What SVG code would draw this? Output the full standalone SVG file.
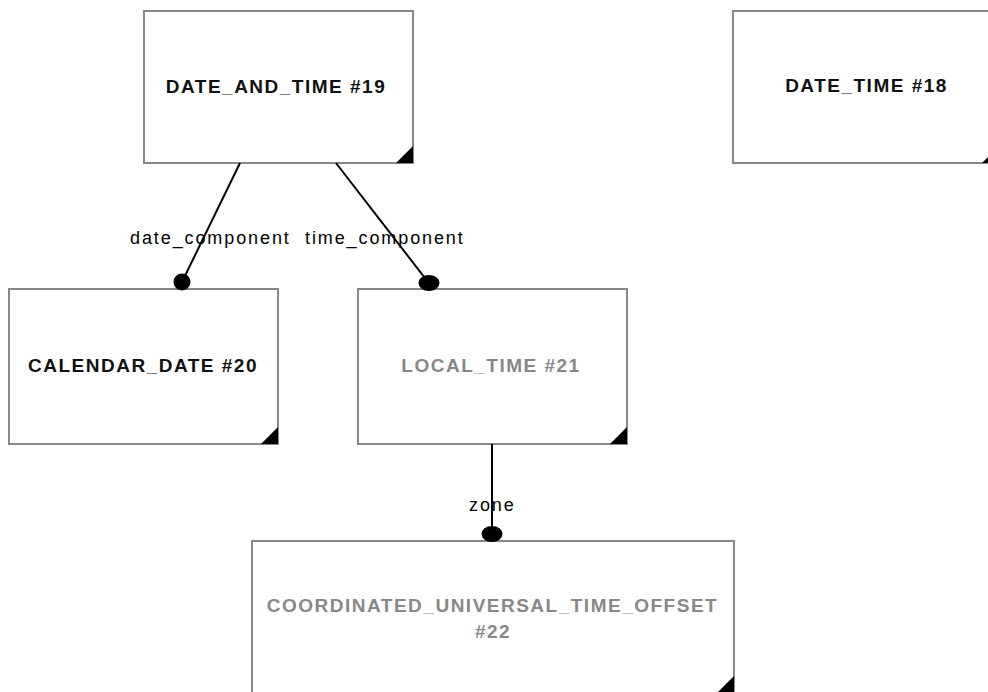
<svg xmlns="http://www.w3.org/2000/svg" width="988" height="692" viewBox="0 0 988 692">
<style>
.box{fill:#fff;stroke:#888;stroke-width:2}
.tri{fill:#000}
.t{font-family:"Liberation Sans",Arial,sans-serif;font-size:19px;font-weight:bold;letter-spacing:1.5px;text-anchor:middle}
.dark{fill:#111}
.grey{fill:#888}
.lbl{font-family:"Liberation Sans",Arial,sans-serif;font-size:18px;letter-spacing:1.9px;fill:#000}
.edge{stroke:#000;stroke-width:2;fill:none}
.dot{fill:#000}
</style>
<rect width="988" height="692" fill="#fff"/>
<g id="node19">
<rect class="box" x="144" y="11" width="269" height="152"/>
<polygon class="tri" points="413,146 413,163 396,163"/>
<text class="t dark" x="276" y="93">DATE_AND_TIME #19</text>
</g>
<g id="node18">
<rect class="box" x="733" y="11" width="266" height="152"/>
<polygon class="tri" points="999,146 999,163 982,163"/>
<text class="t dark" x="866.5" y="92">DATE_TIME #18</text>
</g>
<g id="node20">
<rect class="box" x="9" y="289" width="269" height="155"/>
<polygon class="tri" points="278,427 278,444 261,444"/>
<text class="t dark" x="143" y="371.5">CALENDAR_DATE #20</text>
</g>
<g id="node21">
<rect class="box" x="358" y="289" width="269" height="155"/>
<polygon class="tri" points="627,427 627,444 610,444"/>
<text class="t grey" x="491" y="371.5">LOCAL_TIME #21</text>
</g>
<g id="node22">
<rect class="box" x="252" y="541" width="482" height="152"/>
<polygon class="tri" points="734,676 734,693 717,693"/>
<text class="t grey" x="492.5" y="612">COORDINATED_UNIVERSAL_TIME_OFFSET</text>
<text class="t grey" x="493" y="637.5">#22</text>
</g>
<g id="connectors">
<line class="edge" x1="240" y1="163" x2="182" y2="282"/>
<circle class="dot" cx="182" cy="282" r="8.5"/>
<text class="lbl" x="130" y="244">date_component</text>
<line class="edge" x1="336" y1="163" x2="428" y2="282"/>
<ellipse class="dot" cx="429" cy="283" rx="10.5" ry="8"/>
<text class="lbl" x="305" y="244">time_component</text>
<line class="edge" x1="492" y1="444" x2="492" y2="534"/>
<ellipse class="dot" cx="492" cy="534" rx="10.5" ry="8"/>
<text class="lbl" x="469" y="511">zone</text>
</g>
</svg>
